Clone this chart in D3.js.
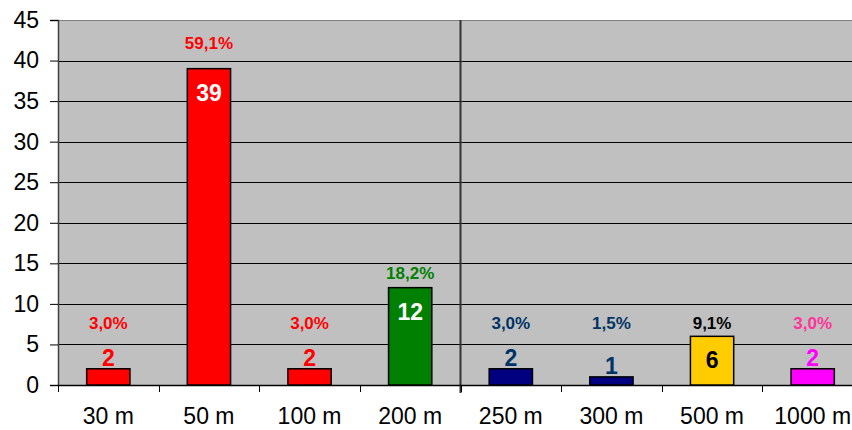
<!DOCTYPE html>
<html>
<head>
<meta charset="utf-8">
<script src="https://cdn.jsdelivr.net/npm/d3@7"></script>
<style>
  html, body { margin: 0; padding: 0; background: #fff; }
  svg { display: block; font-family: "Liberation Sans", Arial, sans-serif; }
</style>
</head>
<body>
<svg id="chart" width="852" height="430"></svg>
<script>
// Distance categories and counts
const categories = ["30 m", "50 m", "100 m", "200 m", "250 m", "300 m", "500 m", "1000 m"];
const counts = [2, 39, 2, 12, 2, 1, 6, 2];
const percentLabels = ["3,0%", "59,1%", "3,0%", "18,2%", "3,0%", "1,5%", "9,1%", "3,0%"];
// Hidden helper series carrying the percentage labels
const percentAnchor = [7.6, 42.2, 7.6, 13.8, 7.6, 7.6, 7.6, 7.6];
const yTicks = [0, 5, 10, 15, 20, 25, 30, 35, 40, 45];

const barColors = ["#FF0000", "#FF0000", "#FF0000", "#008000", "#000080", "#000080", "#FFCC00", "#FF00FF"];
const valueColors = ["#FF0000", "#FFFFFF", "#FF0000", "#FFFFFF", "#003366", "#003366", "#000000", "#FF00FF"];
const valueInside = [false, true, false, true, false, false, true, false];
const pctColors = ["#FF0000", "#FF0000", "#FF0000", "#008000", "#003366", "#003366", "#000000", "#FF3399"];

const svg = d3.select("#chart");
const plot = { left: 58, top: 20, right: 863, bottom: 385 };

const x = d3.scaleBand()
  .domain(categories)
  .range([plot.left, plot.right])
  .paddingInner(0.57)
  .paddingOuter(0.285);

const y = d3.scaleLinear().domain([0, 45]).range([plot.bottom, plot.top]);

// Plot background
svg.append("rect")
  .attr("x", plot.left).attr("y", plot.top)
  .attr("width", plot.right - plot.left).attr("height", plot.bottom - plot.top)
  .attr("fill", "#C0C0C0");

// Horizontal gridlines
svg.append("g").selectAll("line")
  .data(yTicks.filter(t => t > 0))
  .join("line")
  .attr("x1", plot.left).attr("x2", plot.right)
  .attr("y1", d => Math.round(y(d)) + 0.5).attr("y2", d => Math.round(y(d)) + 0.5)
  .attr("stroke", d => d === 45 ? "#808080" : "#000")
  .attr("stroke-width", 1);

// Separator between the 200 m and 250 m groups
const sepX = x("250 m") - x.step() * x.paddingInner() / 2;
svg.append("line")
  .attr("x1", sepX).attr("x2", sepX)
  .attr("y1", plot.top).attr("y2", plot.bottom + 8)
  .attr("stroke", "#333").attr("stroke-width", 2);

// Y axis
const yAxis = svg.append("g")
  .attr("transform", `translate(${plot.left},0)`)
  .call(d3.axisLeft(y).tickValues(yTicks).tickSize(8).tickPadding(11));
yAxis.select(".domain").attr("stroke", "#404040").attr("stroke-width", 1.5);
yAxis.selectAll(".tick line").attr("stroke", "#000");
yAxis.selectAll(".tick text")
  .attr("font-size", 23).attr("fill", "#000")
  .attr("font-family", "Liberation Sans, Arial, sans-serif");

// X axis line and boundary ticks
svg.append("line")
  .attr("x1", plot.left).attr("x2", plot.right)
  .attr("y1", plot.bottom + 0.5).attr("y2", plot.bottom + 0.5)
  .attr("stroke", "#000").attr("stroke-width", 1.5);

const boundaries = d3.range(categories.length + 1).map(i => plot.left + i * x.step());
svg.append("g").selectAll("line")
  .data(boundaries)
  .join("line")
  .attr("x1", d => Math.round(d) + 0.5).attr("x2", d => Math.round(d) + 0.5)
  .attr("y1", plot.bottom).attr("y2", plot.bottom + 7)
  .attr("stroke", "#000");

// Category labels
svg.append("g").selectAll("text")
  .data(categories)
  .join("text")
  .attr("x", d => x(d) + x.bandwidth() / 2)
  .attr("y", 424)
  .attr("text-anchor", "middle")
  .attr("font-size", 23)
  .attr("fill", "#000")
  .text(d => d);

// Bars
svg.append("g").selectAll("rect")
  .data(counts)
  .join("rect")
  .attr("x", (d, i) => x(categories[i]))
  .attr("y", d => y(d))
  .attr("width", x.bandwidth())
  .attr("height", d => y(0) - y(d))
  .attr("fill", (d, i) => barColors[i])
  .attr("stroke", "#000")
  .attr("stroke-width", 1.5);

// Count labels
svg.append("g").selectAll("text")
  .data(counts)
  .join("text")
  .attr("x", (d, i) => x(categories[i]) + x.bandwidth() / 2)
  .attr("y", (d, i) => valueInside[i] ? y(d) + 32 : y(d) - 3)
  .attr("text-anchor", "middle")
  .attr("font-size", 23)
  .attr("font-weight", "bold")
  .attr("fill", (d, i) => valueColors[i])
  .text(d => d);

// Percentage labels
svg.append("g").selectAll("text")
  .data(percentAnchor)
  .join("text")
  .attr("x", (d, i) => x(categories[i]) + x.bandwidth() / 2)
  .attr("y", d => y(d))
  .attr("dy", "0.35em")
  .attr("text-anchor", "middle")
  .attr("font-size", 17)
  .attr("font-weight", "bold")
  .attr("fill", (d, i) => pctColors[i])
  .text((d, i) => percentLabels[i]);
</script>
</body>
</html>
